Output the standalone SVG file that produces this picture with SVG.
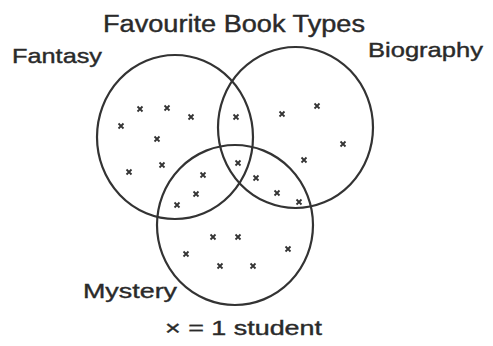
<svg xmlns="http://www.w3.org/2000/svg" width="493" height="346" viewBox="0 0 493 346">
<style>
.c{fill:none;stroke:#333;stroke-width:2.2}
.t{font-family:"Liberation Sans",Arial,sans-serif;fill:#2a2a2a;stroke:#2a2a2a;stroke-width:0.4}
.x{stroke:#333;stroke-width:1.8;fill:none}
</style>
<defs>
<path id="m" class="x" d="M-2.5,-2.5L2.5,2.5M2.5,-2.5L-2.5,2.5"/>
</defs>
<rect width="493" height="346" fill="#fff"/>
<text class="t" x="103" y="32" font-size="23" textLength="262" lengthAdjust="spacingAndGlyphs">Favourite Book Types</text>
<g id="fantasy">
<ellipse class="c" cx="175" cy="137" rx="78" ry="82"/>
<text class="t" x="12" y="63" font-size="21" textLength="90" lengthAdjust="spacingAndGlyphs">Fantasy</text>
</g>
<g id="biography">
<ellipse class="c" cx="295.5" cy="127.5" rx="77.5" ry="80.5"/>
<text class="t" x="368" y="57" font-size="21" textLength="115" lengthAdjust="spacingAndGlyphs">Biography</text>
</g>
<g id="mystery">
<ellipse class="c" cx="235" cy="225" rx="78" ry="80"/>
<text class="t" x="83" y="298" font-size="21" textLength="94" lengthAdjust="spacingAndGlyphs">Mystery</text>
</g>
<g id="marks">
<use href="#m" x="140" y="109"/><use href="#m" x="167" y="108"/><use href="#m" x="191" y="117"/>
<use href="#m" x="121" y="126"/><use href="#m" x="157" y="139"/><use href="#m" x="162" y="165"/>
<use href="#m" x="129" y="172"/>
<use href="#m" x="236" y="117"/><use href="#m" x="238" y="163"/>
<use href="#m" x="203" y="175"/><use href="#m" x="196" y="194"/><use href="#m" x="177" y="205"/>
<use href="#m" x="282" y="114"/><use href="#m" x="317" y="106"/><use href="#m" x="343" y="144"/>
<use href="#m" x="304" y="160"/>
<use href="#m" x="256" y="178"/><use href="#m" x="277" y="193"/><use href="#m" x="299" y="202"/>
<use href="#m" x="213" y="237"/><use href="#m" x="238" y="237"/><use href="#m" x="186" y="254"/>
<use href="#m" x="288" y="249"/><use href="#m" x="220" y="266"/><use href="#m" x="253" y="266"/>
</g>
<text id="legend" class="t" x="165" y="335" font-size="21" textLength="157" lengthAdjust="spacingAndGlyphs">× = 1 student</text>
</svg>
